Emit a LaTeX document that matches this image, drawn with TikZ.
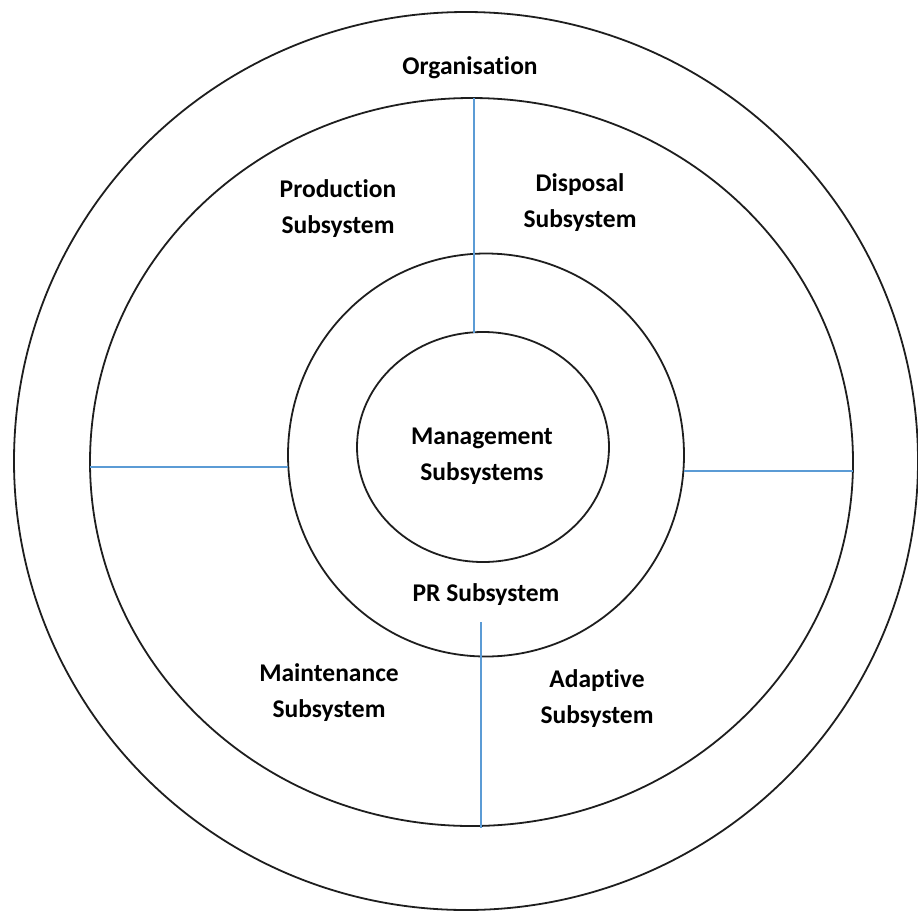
\documentclass[tikz,border=0pt]{standalone}
\usepackage{fontspec}
\setmainfont{Carlito}[Ligatures=NoCommon]
\usepackage{xcolor}
\definecolor{Col1}{RGB}{91,155,213}
\definecolor{Col2}{RGB}{30,30,30}
\usetikzlibrary{shapes}
\tikzstyle{Ring}=[ellipse,draw=Col2,line width=1.8pt,inner sep=0pt]
\tikzstyle{Divider}=[draw=Col1,line width=1.5pt]
\tikzstyle{Label}=[font=\fontsize{25.5}{36}\selectfont\bfseries,align=center,
text=black]

\begin{document}
\begin{tikzpicture}[x=1pt,y=-1pt]
        \useasboundingbox(0,0)rectangle(918,911);
        \node[Ring,minimum width=904,minimum height=898](org)at(466,461){};
        \node[Ring,minimum width=763,minimum height=728](sub)at(471.5,462){};
        \node[Ring,minimum width=396,minimum height=403](pr)at(486,455){};
        \node[Ring,minimum width=252,minimum height=230](mgmt)at(483,447){};
        \coordinate(t1)at(474,98);
        \coordinate(t2)at(474,333);
        \coordinate(l1)at(90,467);
        \coordinate(l2)at(288,467);
        \coordinate(r1)at(684,471);
        \coordinate(r2)at(853,471);
        \coordinate(b1)at(481,622);
        \coordinate(b2)at(481,828);
        \draw[Divider](t1)--(t2);
        \draw[Divider](l1)--(l2);
        \draw[Divider](r1)--(r2);
        \draw[Divider](b1)--(b2);
        \node[Label](0)at(470,68){Organisation};
        \node[Label](1)at(338,209){Production\\Subsystem};
        \node[Label](2)at(580,203){Disposal\\Subsystem};
        \node[Label](3)at(482,456){Management\\Subsystems};
        \node[Label](4)at(486,595){PR Subsystem};
        \node[Label](5)at(329,693){Maintenance\\Subsystem};
        \node[Label](6)at(597,699){Adaptive\\Subsystem};
    \end{tikzpicture}
\end{document}
